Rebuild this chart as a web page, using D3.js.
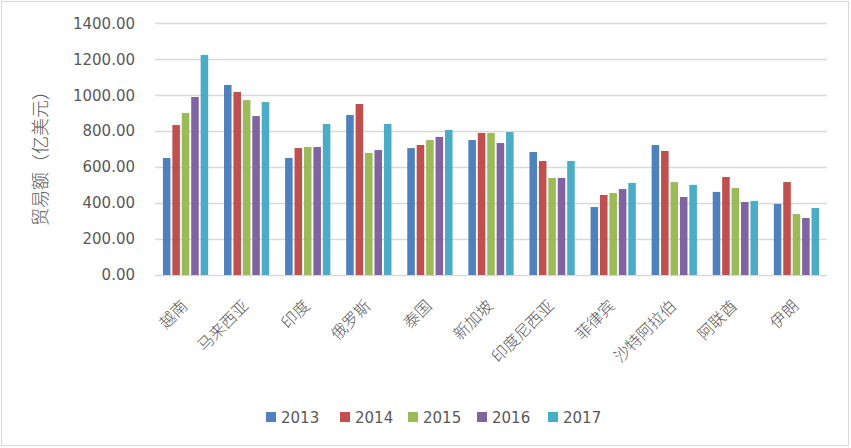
<!DOCTYPE html>
<html><head><meta charset="utf-8">
<script src="https://cdn.jsdelivr.net/npm/d3@7"></script>
<style>
html,body{margin:0;padding:0;background:#fff;}
svg{display:block;}
</style></head>
<body>
<svg id="chart" width="851" height="448"></svg>
<script>
const categories = ["越南","马来西亚","印度","俄罗斯","泰国","新加坡","印度尼西亚","菲律宾","沙特阿拉伯","阿联酋","伊朗"];
const years = ["2013","2014","2015","2016","2017"];
const v2013 = [651,1057,651,890,706,751,684,378,723,462,395];
const v2014 = [834,1018,706,951,723,790,634,445,690,545,517];
const v2015 = [901,973,712,679,751,790,540,456,517,484,339];
const v2016 = [990,884,712,695,768,734,540,478,434,406,317];
const v2017 = [1224,962,840,840,807,795,634,512,501,412,373];
const yTicks = [0,200,400,600,800,1000,1200,1400];
const colors = ["#4F81BD","#C0504D","#9BBB59","#8064A2","#4BACC6"];
const series = [v2013,v2014,v2015,v2016,v2017];

const svg = d3.select("#chart");
const textColor = "#595959";
const latin = "'DejaVu Sans', sans-serif";
const cjk = "'Noto Sans CJK SC', sans-serif";

svg.append("rect").attr("x",1.5).attr("y",1.5).attr("width",847).attr("height",444)
  .attr("fill","#fff").attr("stroke","#D9D9D9").attr("stroke-width",1);

const pL = 155, pR = 827, pT = 23.3, pB = 275;
const y = d3.scaleLinear().domain([0,1400]).range([pB, pT]);
const x0 = d3.scaleBand().domain(categories).range([pL,pR]).paddingInner(0.259).paddingOuter(0.1295);
const x1 = d3.scaleBand().domain(years).range([0, x0.bandwidth()]).paddingInner(0.2);

// gridlines
svg.append("g").selectAll("line").data(yTicks).join("line")
  .attr("x1",pL).attr("x2",pR)
  .attr("y1",d=>Math.round(y(d))+0.5).attr("y2",d=>Math.round(y(d))+0.5)
  .attr("stroke","#D9D9D9").attr("stroke-width",1.3);

// y axis labels
const yAxis = d3.axisLeft(y).tickValues(yTicks).tickFormat(d3.format(".2f")).tickSize(0).tickPadding(20);
const ga = svg.append("g").attr("transform",`translate(${pL},0)`).call(yAxis);
ga.select(".domain").remove();
ga.selectAll("text").attr("fill",textColor).style("font-family",latin).style("font-size","15px");

// bars
const groups = svg.append("g").selectAll("g").data(categories).join("g")
  .attr("transform",d=>`translate(${x0(d)},0)`);
groups.selectAll("rect").data((d,i)=>years.map((yr,k)=>({yr,k,v:series[k][i]}))).join("rect")
  .attr("x",d=>x1(d.yr)).attr("width",x1.bandwidth())
  .attr("y",d=>y(d.v)).attr("height",d=>y(0)-y(d.v))
  .attr("fill",d=>colors[d.k]);

// x labels
const xAxis = d3.axisBottom(x0).tickSize(0).tickPadding(0);
const gx = svg.append("g").attr("transform",`translate(0,${pB})`).call(xAxis);
gx.select(".domain").remove();
gx.selectAll("text")
  .attr("fill",textColor).style("font-family",cjk).style("font-size","16px").style("font-weight","300")
  .attr("text-anchor","end").attr("dy",null).attr("y",null)
  .attr("transform","translate(3,32) rotate(-45)");

// y title
svg.append("text").attr("transform","translate(47,154) rotate(-90)")
  .attr("text-anchor","middle").attr("fill",textColor)
  .style("font-family",cjk).style("font-size","18px").style("font-weight","300").text("贸易额（亿美元）");

// legend
const legX = [266,340,408,477,548];
const lg = svg.append("g").selectAll("g").data(years).join("g")
  .attr("transform",(d,i)=>`translate(${legX[i]},412)`);
lg.append("rect").attr("width",10).attr("height",10).attr("fill",(d,i)=>colors[i]);
lg.append("text").attr("x",15).attr("y",10.5).attr("fill",textColor)
  .style("font-family",latin).style("font-size","15px").text(d=>d);
</script>
</body></html>
